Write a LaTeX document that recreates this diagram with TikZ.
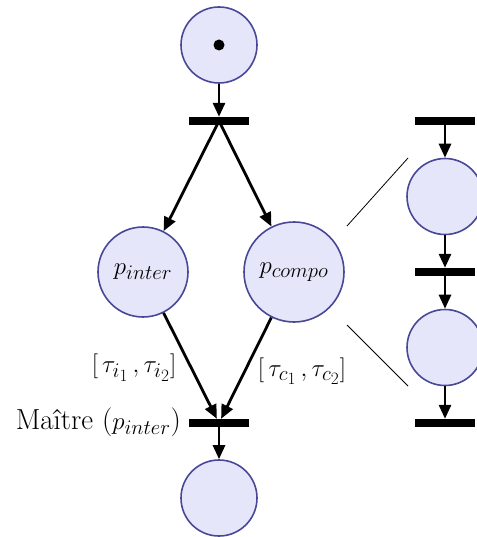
\documentclass[tikz,border=0pt]{standalone}
\usetikzlibrary{arrows.meta}
\definecolor{placeborder}{RGB}{72,72,150}
\definecolor{placefill}{RGB}{230,230,250}
\DeclareMathSizes{29}{29}{21.5}{16.5}
\begin{document}
\begin{tikzpicture}[x=1pt,y=-1pt,
  place/.style={circle,draw=placeborder,fill=placefill,line width=1.6pt,minimum size=76pt,inner sep=0pt},
  trans/.style={rectangle,fill=black,minimum width=60pt,minimum height=8pt,inner sep=0pt},
  arc/.style={line width=2.8pt,-{Triangle[length=14pt,width=12pt]}},
  thinline/.style={line width=0.8pt},
  lbl/.style={font=\fontsize{29}{35}\selectfont}]
\useasboundingbox (0,0) rectangle (476,537);
% left net
\node[place] (top) at (219,45) {};
\fill (top.center) circle (5.5pt);
\node[trans] (t1) at (219,121) {};
\node[place,lbl,minimum size=90pt] (pi) at (143,272) {$p_{inter}$};
\node[place,lbl,minimum size=100pt] (pc) at (294,272) {$p_{compo}$};
\node[trans] (t2) at (219,423) {};
\node[place] (bot) at (219,498) {};
\draw[arc] (top) -- (t1);
\draw[arc] (t1.center) -- (pi);
\draw[arc] (t1.center) -- (pc);
\draw[arc] (pi) -- (t2);
\draw[arc] (pc) -- (t2);
\draw[arc] (t2.center) -- (bot);
\node[lbl,anchor=east,inner sep=0pt] (mt) at (181,422) {Maître ($p_{inter}$)};
\node[lbl,inner sep=0pt] (li) at (134,368) {$[\,\tau_{i_1}\,,\tau_{i_2}]$};
\node[lbl,inner sep=0pt] (lc) at (302,371) {$[\,\tau_{c_1}\,,\tau_{c_2}]$};
% right net
\node[trans] (r1) at (445,121) {};
\node[place] (rp1) at (445,196.5) {};
\node[trans] (r2) at (445,272) {};
\node[place] (rp2) at (445,347.5) {};
\node[trans] (r3) at (445,423) {};
\draw[arc] (r1.center) -- (rp1);
\draw[arc] (rp1) -- (r2);
\draw[arc] (r2.center) -- (rp2);
\draw[arc] (rp2) -- (r3);
% zoom lines
\coordinate (a1) at (347,226);
\coordinate (a2) at (408,158);
\coordinate (b1) at (347,325);
\coordinate (b2) at (408,386);
\draw[thinline] (a1) -- (a2);
\draw[thinline] (b1) -- (b2);
\end{tikzpicture}
\end{document}
